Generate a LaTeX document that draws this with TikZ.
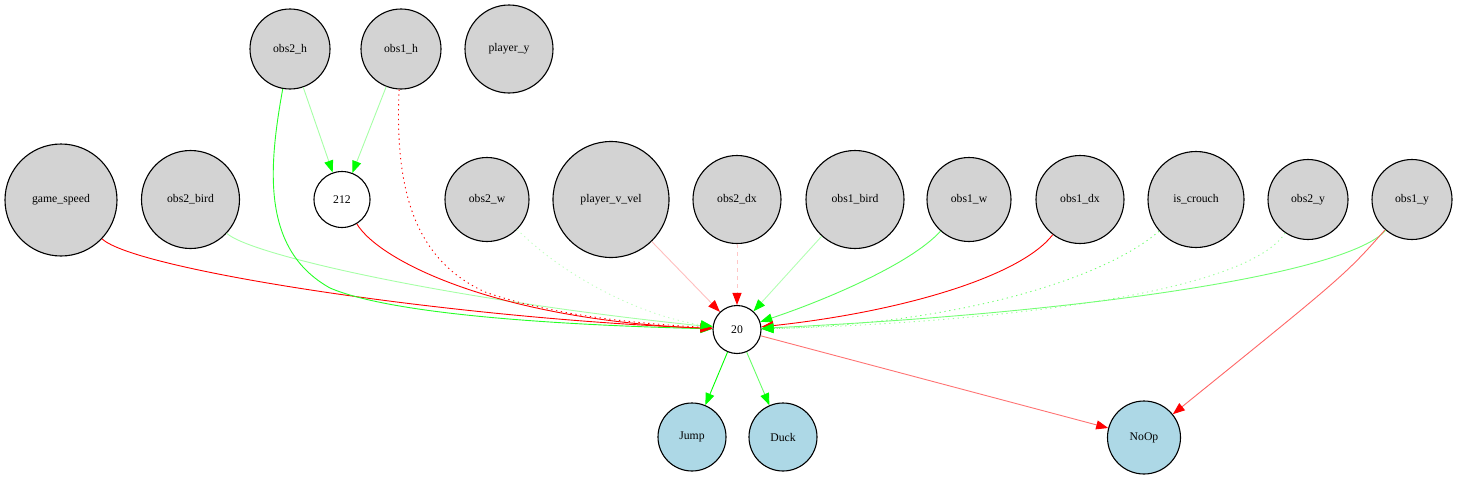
\documentclass[tikz,border=0pt]{standalone}
\usepackage{fontspec}
\setmainfont{Liberation Serif}
\usetikzlibrary{arrows.meta}
\definecolor{ingray}{HTML}{D3D3D3}
\definecolor{outblue}{HTML}{ADD8E6}
\begin{document}
\begin{tikzpicture}[x=1pt,y=-1pt,
  font=\fontsize{11.7}{14}\selectfont,
  nd/.style={circle,draw=black,line width=1.1pt,inner sep=0pt,minimum size=#1},
  inp/.style={nd=#1,fill=ingray},
  hid/.style={nd=#1,fill=white},
  outn/.style={nd=#1,fill=outblue},
  eg/.style={line width=0.9pt,-{Triangle[length=12pt,width=9pt,color=green,fill=green]}},
  er/.style={line width=0.9pt,-{Triangle[length=12pt,width=9pt,color=red,fill=red]}},
  dotl/.style={dash pattern=on 1.3pt off 3.6pt},
  dashl/.style={dash pattern=on 4pt off 4pt}]
\useasboundingbox (0,0) rectangle (1457,479);

% top row
\node[inp=80pt] (o2h) at (290,49) {obs2\_h};
\node[inp=80pt] (o1h) at (401,49) {obs1\_h};
\node[inp=88pt] (py) at (509,49) {player\_y};

% middle row
\node[inp=112pt] (gs) at (61,200) {game\_speed};
\node[inp=98pt] (o2b) at (190.5,199.5) {obs2\_bird};
\node[hid=56pt] (h212) at (342,199.5) {212};
\node[inp=84pt] (o2w) at (487,199.5) {obs2\_w};
\node[inp=116pt] (pvv) at (611,199.5) {player\_v\_vel};
\node[inp=88pt] (o2dx) at (737,199.5) {obs2\_dx};
\node[inp=98pt] (o1b) at (855,199.5) {obs1\_bird};
\node[inp=84pt] (o1w) at (969,199.5) {obs1\_w};
\node[inp=88pt] (o1dx) at (1080,199.5) {obs1\_dx};
\node[inp=96pt] (isc) at (1196,199.5) {is\_crouch};
\node[inp=80pt] (o2y) at (1308,199.5) {obs2\_y};
\node[inp=80pt] (o1y) at (1412,199.5) {obs1\_y};

% hidden and outputs
\node[hid=48pt] (h20) at (737,329.5) {20};
\node[outn=68pt] (jump) at (692,437) {Jump};
\node[outn=68pt] (duck) at (783,437) {Duck};
\node[outn=73pt] (noop) at (1144,437.5) {NoOp};

% edges into 212
\draw[eg,draw=green!35] (o2h) -- (h212);
\draw[eg,draw=green!35] (o1h) -- (h212);

% edges into 20 from the left
\draw[er,draw=red] (gs) .. controls (135,270) and (450,318) .. (h20);
\draw[eg,draw=green!35] (o2b) .. controls (250,255) and (450,300) .. (h20);
\draw[eg,draw=green!85] (o2h) .. controls (268,170) and (262,250) .. (330,288) .. controls (400,318) and (600,326) .. (h20);
\draw[er,draw=red] (h212) .. controls (380,262) and (500,320) .. (h20);
\draw[er,draw=red,dotl] (o1h) .. controls (394,200) and (420,262) .. (485,292) .. controls (560,318) and (650,324) .. (h20);
\draw[eg,draw=green!25,dotl] (o2w) .. controls (570,282) and (650,318) .. (h20);
\draw[er,draw=red!25] (pvv) -- (h20);
\draw[er,draw=red!22,dashl] (o2dx) -- (h20);

% edges into 20 from the right
\draw[eg,draw=green!30] (o1b) -- (h20);
\draw[eg,draw=green!65] (o1w) .. controls (910,265) and (820,302) .. (h20);
\draw[er,draw=red] (o1dx) .. controls (1020,277) and (900,312) .. (h20);
\draw[eg,draw=green!55,dotl] (isc) .. controls (1100,282) and (950,324) .. (h20);
\draw[eg,draw=green!40,dotl] (o2y) .. controls (1240,300) and (950,324) .. (h20);
\draw[eg,draw=green!55] (o1y) .. controls (1350,272) and (1100,312) .. (h20);

% edges to outputs
\draw[eg,draw=green] (h20) -- (jump);
\draw[eg,draw=green!60] (h20) -- (duck);
\draw[er,draw=red!55] (h20) -- (noop);
\draw[er,draw=red!60] (o1y) .. controls (1345,275) .. (noop);
\end{tikzpicture}
\end{document}
